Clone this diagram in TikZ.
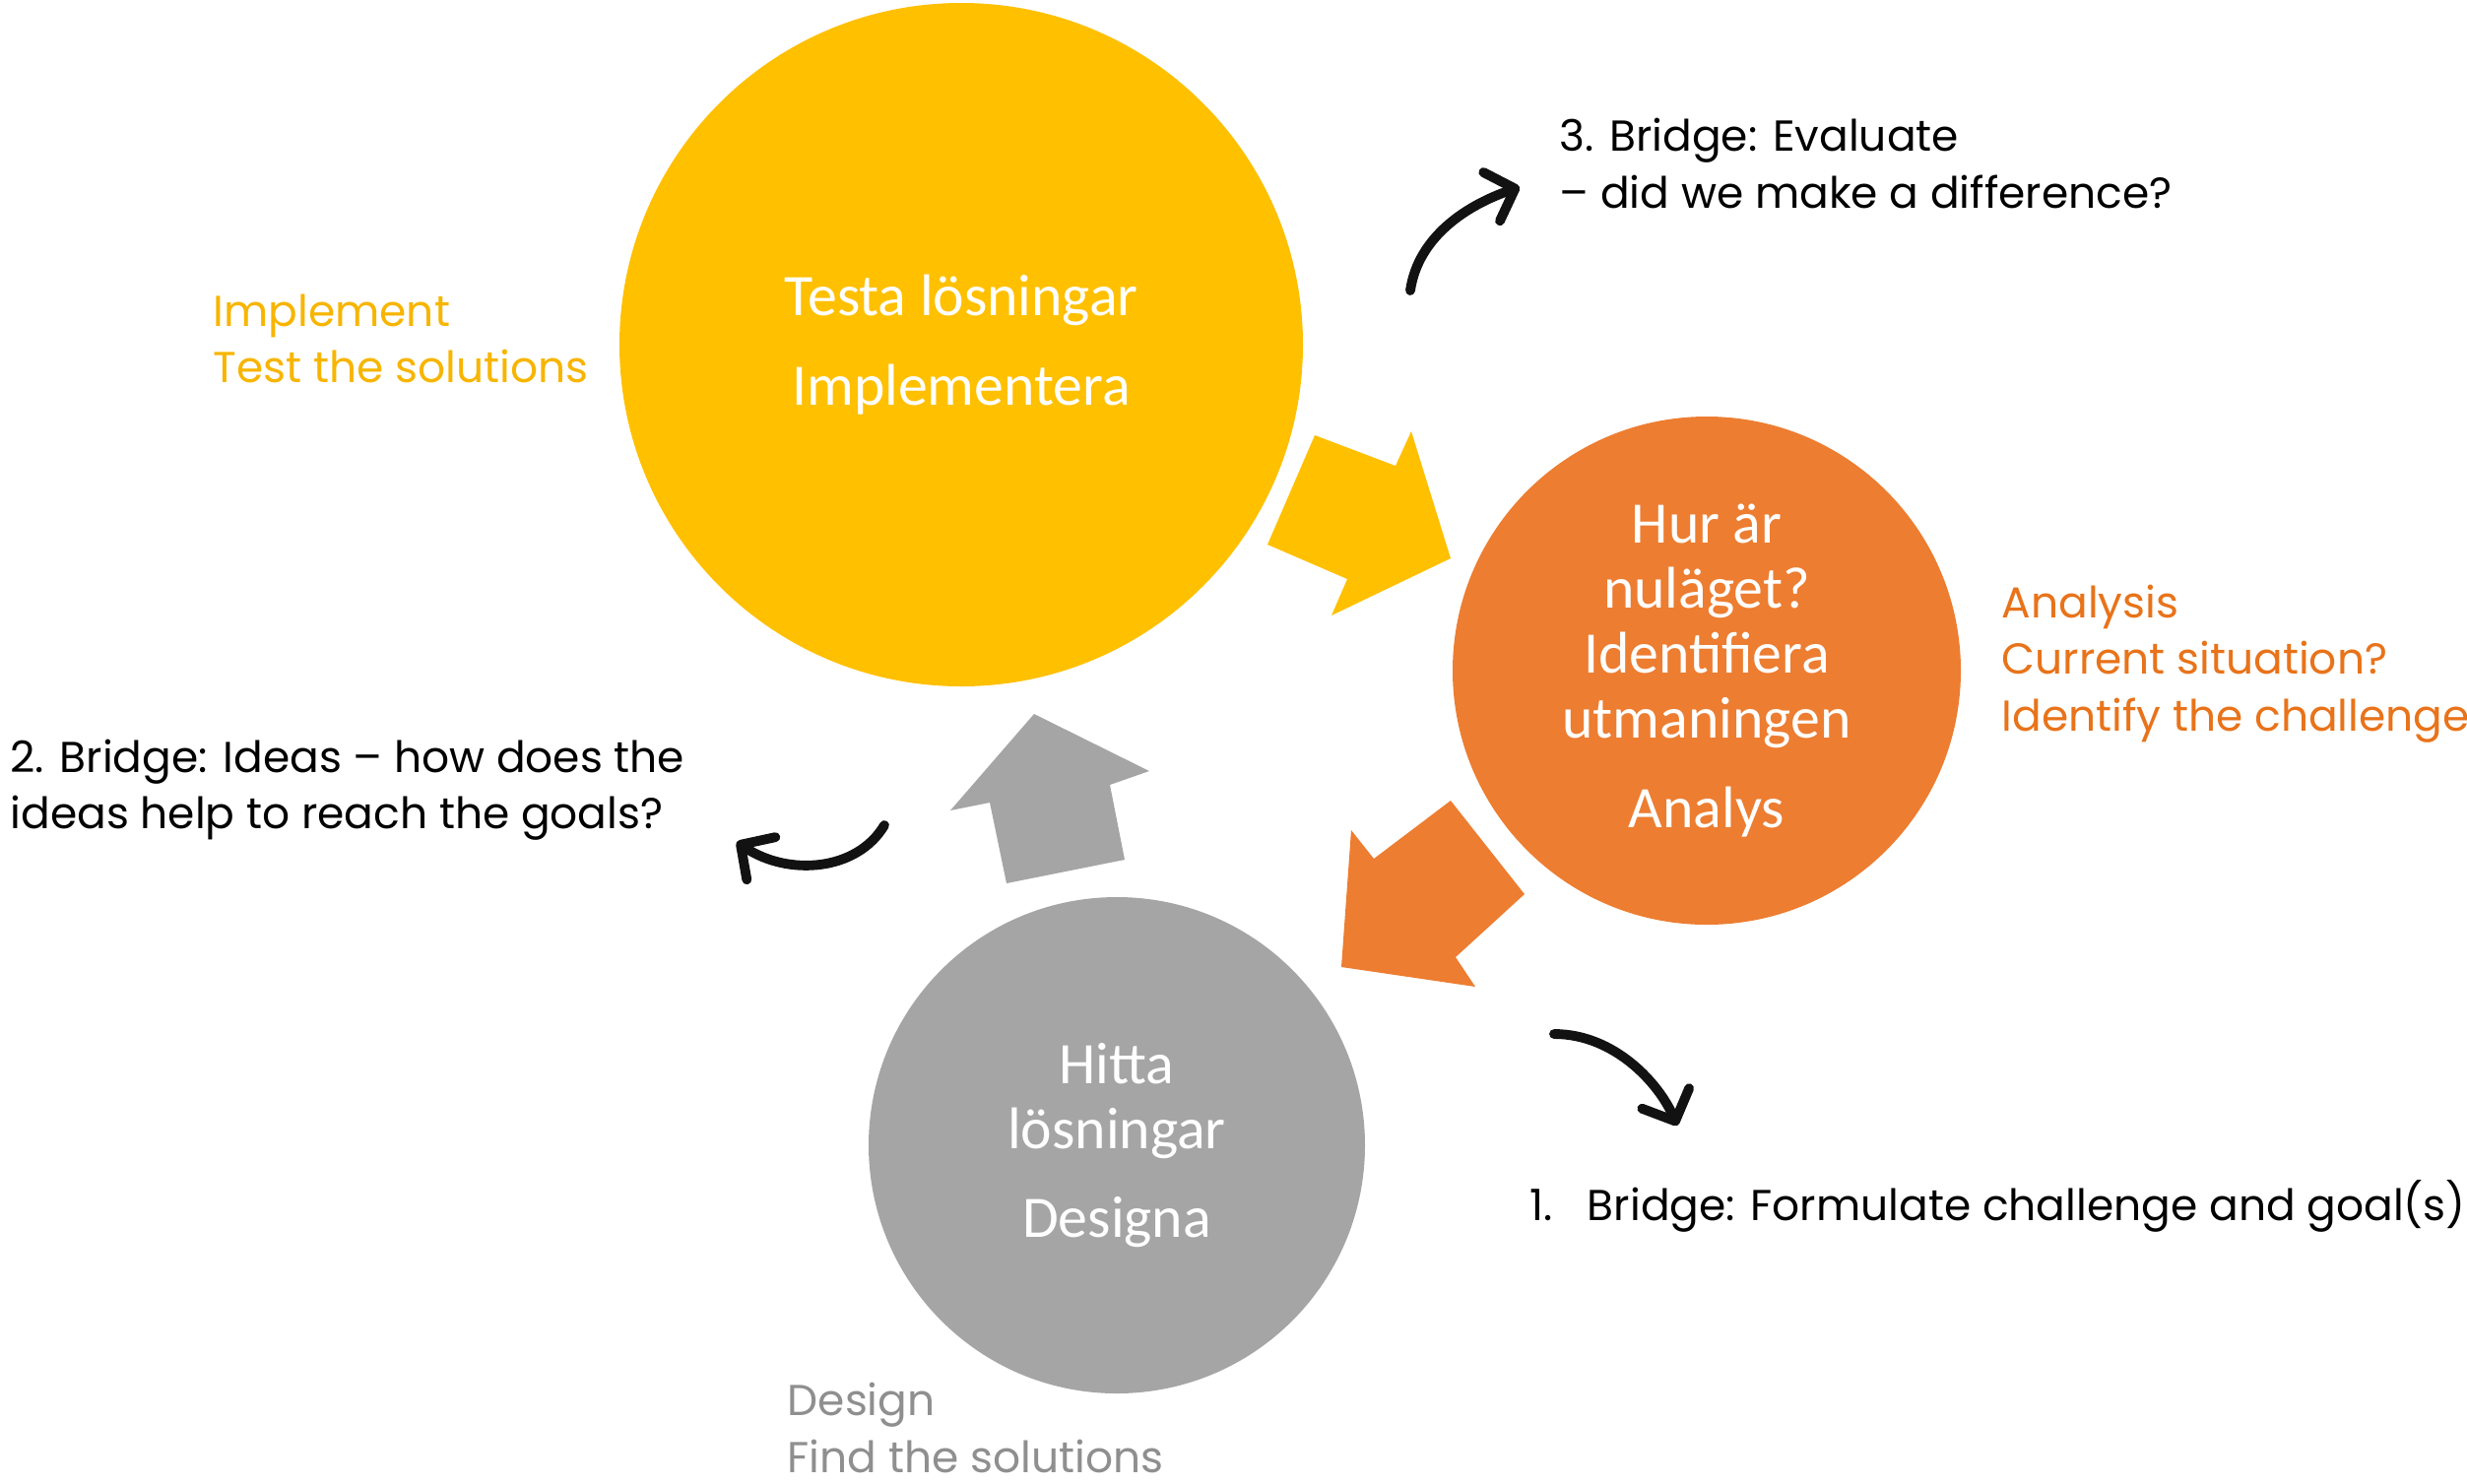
\documentclass[tikz,border=0pt]{standalone}
\usepackage{fontspec}
\setmainfont{Poppins}
\newfontfamily\calibri{Carlito}
\usetikzlibrary{arrows.meta}

\definecolor{gul}{HTML}{FFC000}
\definecolor{gultext}{HTML}{F7B500}
\definecolor{orange}{HTML}{ED7D31}
\definecolor{orangetext}{HTML}{E8731A}
\definecolor{gra}{HTML}{A5A5A5}
\definecolor{gratext}{HTML}{8F8F8F}

\tikzset{
  fas/.style={circle, inner sep=0pt, text=white, align=center,
    font=\calibri\fontsize{17}{18.8}\selectfont},
  etikett/.style={anchor=west, align=left, inner sep=0pt,
    font=\fontsize{12.5}{16.3}\selectfont},
  bro/.style={line width=2.8pt, line cap=round, draw=black!93,
    -{Straight Barb[length=2.5mm, width=5.2mm, round]}}
}

\begin{document}
\begin{tikzpicture}

    \useasboundingbox (0,0) rectangle (25.05,-15.06);

    \node[fas, fill=gul, minimum size=6.94cm] (testa) at (9.76,-3.50)
        {Testa lösningar\\[7pt]Implementera};
    \node[fas, fill=orange, minimum size=5.16cm] (analys) at (17.33,-6.81)
        {Hur är\\nuläget?\\Identifiera\\utmaningen\\[7pt]Analys};
    \node[fas, fill=gra, minimum size=5.04cm] (hitta) at (11.34,-11.63)
        {Hitta\\lösningar\\[7pt]Designa};

    \fill[gul] (13.35,-4.42) -- (14.17,-4.73) -- (14.33,-4.38) -- (14.73,-5.67)
        -- (13.52,-6.25) -- (13.68,-5.88) -- (12.87,-5.53) -- cycle;
    \fill[orange] (14.73,-8.13) -- (15.48,-9.08) -- (14.78,-9.72) -- (14.98,-10.02)
        -- (13.62,-9.82) -- (13.72,-8.43) -- (13.95,-8.72) -- cycle;
    \fill[gra] (10.50,-7.25) -- (11.67,-7.83) -- (11.27,-7.97) -- (11.42,-8.73)
        -- (10.22,-8.97) -- (10.05,-8.15) -- (9.65,-8.23) -- cycle;

    \node[etikett, text=gultext] (implement) at (2.16,-3.44)
        {Implement\\Test the solutions};
    \node[etikett, text=orangetext] (analysis) at (20.32,-6.74)
        {Analysis\\Current situation?\\Identify the challenge};
    \node[etikett, text=gratext] (design) at (7.99,-14.50)
        {Design\\Find the solutions};
    \node[etikett] (evaluate) at (15.83,-1.66)
        {3. Bridge: Evaluate\\– did we make a difference?};
    \node[etikett] (ideas) at (0.10,-8.02)
        {2. Bridge: Ideas – how does the\\ideas help to reach the goals?};
    \node[etikett] (formulate) at (15.53,-12.25)
        {1.\hspace{3.5mm}Bridge: Formulate challenge and goal(s)};

    \coordinate (b3s) at (14.32,-2.95);
    \coordinate (b3e) at (15.43,-1.90);
    \coordinate (b2s) at (8.98,-8.38);
    \coordinate (b2e) at (7.48,-8.55);
    \coordinate (b1s) at (15.78,-10.50);
    \coordinate (b1e) at (17.03,-11.43);

    \draw[bro] (b3s) .. controls (14.40,-2.40) and (14.90,-2.08) .. (b3e);
    \draw[bro] (b2s) .. controls (8.70,-8.85) and (8.00,-8.90) .. (b2e);
    \draw[bro] (b1s) .. controls (16.40,-10.50) and (16.85,-11.01) .. (b1e);

\end{tikzpicture}
\end{document}
